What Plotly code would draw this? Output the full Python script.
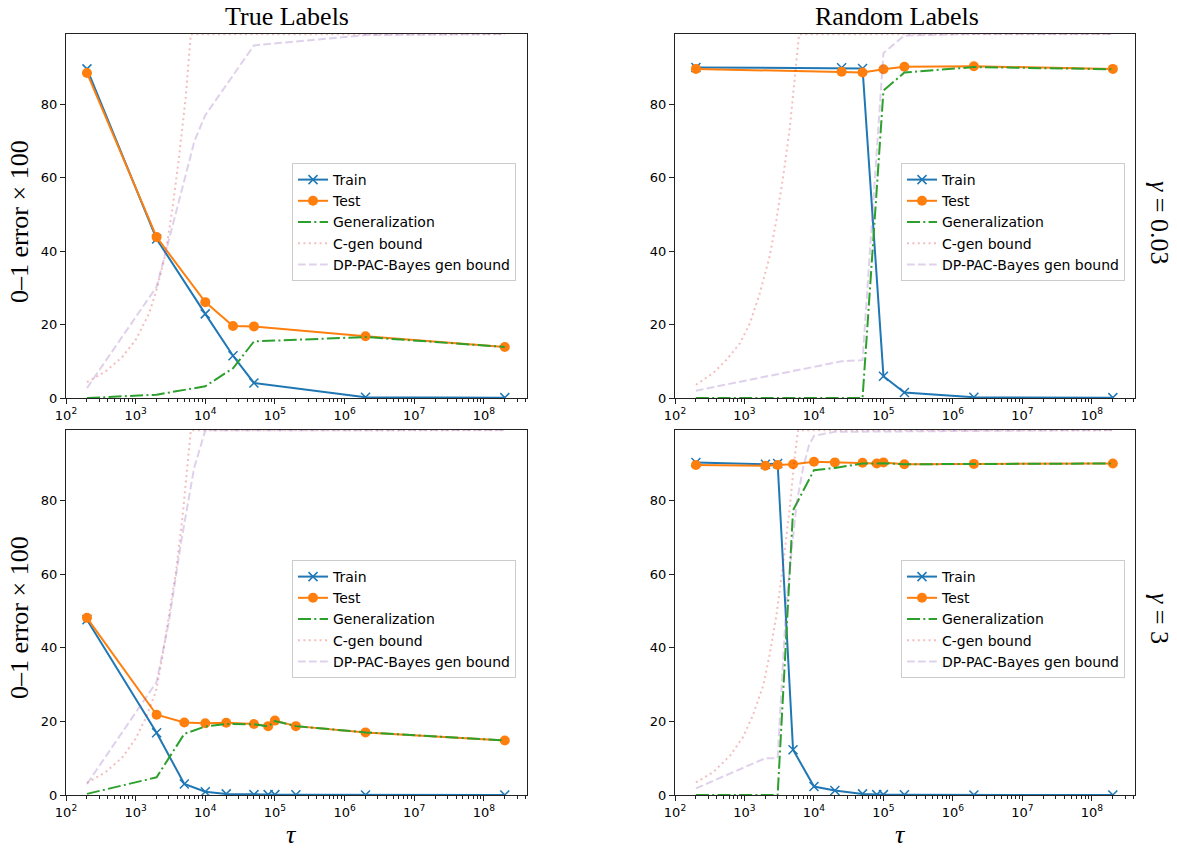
import plotly.graph_objects as go

# ---------------- data ----------------
# Top-left: True labels, gamma = 0.03
TL_tau = [200, 2000, 1e4, 2.5e4, 5e4, 2e6, 2e8]
TL_train = [89.6, 43.3, 22.9, 11.5, 4.1, 0.2, 0.1]
TL_test = [88.5, 43.8, 26.1, 19.6, 19.5, 16.8, 13.9]
TL_gen = [0.0, 0.9, 3.2, 8.1, 15.4, 16.6, 13.9]
TL_cgen_tau = [200, 370, 650, 1000, 1560, 2000, 2700, 3400, 4200, 5250, 6200, 2e8]
TL_cgen = [4.3, 7.2, 11.3, 15.8, 23.0, 29.5, 39.4, 52.0, 65.6, 82.0, 99.0, 99.0]
TL_dp_tau = [200, 2000, 3000, 4000, 5000, 7000, 1e4, 2.5e4, 5e4, 2e6, 2e8]
TL_dp = [2.7, 30.3, 43.0, 52.0, 59.0, 70.0, 77.0, 88.0, 96.0, 98.8, 99.1]

# Top-right: Random labels, gamma = 0.03
TR_tau = [200, 2.5e4, 5e4, 1e5, 2e5, 2e6, 2e8]
TR_train = [90.0, 89.9, 89.7, 5.9, 1.5, 0.2, 0.1]
TR_test = [89.6, 88.8, 88.6, 89.5, 90.2, 90.3, 89.6]
TR_gen = [0.0, 0.0, 0.0, 83.7, 88.6, 90.1, 89.5]
TR_cgen_tau = [200, 355, 550, 860, 1200, 1660, 2300, 2870, 3600, 4450, 5250, 6100, 2e8]
TR_cgen = [3.6, 6.8, 10.4, 14.9, 20.4, 28.5, 38.5, 48.4, 60.2, 72.9, 86.4, 99.0, 99.0]
TR_dp_tau = [200, 2.5e4, 5e4, 1e5, 2e5, 2e6, 2e8]
TR_dp = [2.0, 10.0, 10.3, 93.9, 98.7, 99.1, 99.1]

# Bottom-left: True labels, gamma = 3
BL_tau = [200, 2000, 5000, 1e4, 2e4, 5e4, 8e4, 1e5, 2e5, 2e6, 2e8]
BL_train = [47.6, 16.9, 3.0, 0.9, 0.3, 0.1, 0.1, 0.1, 0.05, 0.02, 0.0]
BL_test = [48.1, 21.8, 19.7, 19.5, 19.6, 19.3, 18.7, 20.2, 18.7, 17.0, 14.8]
BL_gen = [0.3, 4.8, 16.6, 18.6, 19.3, 19.2, 18.6, 20.1, 18.7, 17.0, 14.8]
BL_cgen_tau = [200, 370, 650, 1000, 1380, 1950, 2400, 3000, 3800, 4700, 5560, 6200, 2e8]
BL_cgen = [3.3, 6.2, 10.3, 15.3, 20.7, 28.0, 37.0, 48.0, 60.7, 75.3, 89.0, 99.0, 99.0]
BL_dp_tau = [200, 2000, 3000, 4500, 6900, 9100, 1e4, 2e8]
BL_dp = [3.0, 30.7, 47.0, 68.7, 88.7, 96.8, 99.0, 99.1]

# Bottom-right: Random labels, gamma = 3
BR_tau = [200, 2000, 3000, 5000, 1e4, 2e4, 5e4, 8e4, 1e5, 2e5, 2e6, 2e8]
BR_train = [90.3, 89.8, 90.0, 12.3, 2.3, 1.2, 0.3, 0.1, 0.1, 0.05, 0.02, 0.0]
BR_test = [89.6, 89.4, 89.6, 89.8, 90.5, 90.3, 90.2, 90.0, 90.3, 89.8, 89.9, 90.0]
BR_gen = [0.0, 0.0, 0.0, 77.3, 88.2, 88.8, 90.0, 90.0, 90.1, 89.8, 89.9, 90.0]
BR_cgen_tau = [200, 355, 620, 950, 1320, 1860, 2290, 2880, 3590, 4470, 5250, 5900, 2e8]
BR_cgen = [3.4, 6.2, 10.7, 15.7, 21.6, 29.7, 37.9, 48.8, 62.4, 77.8, 91.4, 99.0, 99.0]
BR_dp_tau = [200, 2000, 3000, 3200, 3600, 4000, 4700, 5600, 7000, 8500, 1e4, 2e4, 2e8]
BR_dp = [1.8, 10.0, 10.0, 19.0, 37.0, 52.0, 65.0, 79.0, 89.0, 95.0, 97.5, 98.6, 99.1]

SERIES_NAMES = ["Train", "Test", "Generalization", "C-gen bound", "DP-PAC-Bayes gen bound"]
COL_TITLES = ["True Labels", "Random Labels"]
ROW_LABELS = ["<i>γ</i> = 0.03", "<i>γ</i> = 3"]
YLABEL = "0–1 error × 100"
XLABEL = "<i>τ</i>"
X_TICKVALS = [1e2, 1e3, 1e4, 1e5, 1e6, 1e7, 1e8]
X_TICKTEXT = ["10<sup>%d</sup>" % e for e in range(2, 9)]
Y_TICKVALS = [0, 20, 40, 60, 80]

# ---------------- styling ----------------
BLUE = "#1f77b4"
ORANGE = "#ff7f0e"
GREEN = "#2ca02c"
PINK = "rgba(214,39,40,0.3)"
LAV = "rgba(148,103,189,0.3)"
W, H = 1177, 852
LW = 2

panels = [
    (TL_tau, TL_train, TL_test, TL_gen, TL_cgen_tau, TL_cgen, TL_dp_tau, TL_dp),
    (TR_tau, TR_train, TR_test, TR_gen, TR_cgen_tau, TR_cgen, TR_dp_tau, TR_dp),
    (BL_tau, BL_train, BL_test, BL_gen, BL_cgen_tau, BL_cgen, BL_dp_tau, BL_dp),
    (BR_tau, BR_train, BR_test, BR_gen, BR_cgen_tau, BR_cgen, BR_dp_tau, BR_dp),
]

# pixel boxes of the axes: (left, right, top, bottom)
boxes = [(66, 527, 34, 398), (675, 1135, 34, 398), (66, 527, 430, 795), (675, 1135, 430, 795)]
legend_pos = [(292, 163), (901, 163), (292, 560), (901, 560)]

fig = go.Figure()
for i, (tau, tr, te, ge, ct, cg, dt, dp) in enumerate(panels):
    sfx = "" if i == 0 else str(i + 1)
    xa, ya = "x" + sfx, "y" + sfx
    lg = "legend" + sfx
    common = dict(xaxis=xa, yaxis=ya, legend=lg, showlegend=True, hoverinfo="skip")
    fig.add_trace(go.Scatter(x=tau, y=tr, name=SERIES_NAMES[0], mode="lines+markers",
                             line=dict(color=BLUE, width=LW),
                             marker=dict(symbol="x-thin", size=9, line=dict(color=BLUE, width=1.5)),
                             **common))
    fig.add_trace(go.Scatter(x=tau, y=te, name=SERIES_NAMES[1], mode="lines+markers",
                             line=dict(color=ORANGE, width=LW),
                             marker=dict(symbol="circle", size=10, color=ORANGE, line=dict(width=0)),
                             **common))
    fig.add_trace(go.Scatter(x=tau, y=ge, name=SERIES_NAMES[2], mode="lines",
                             line=dict(color=GREEN, width=LW, dash="13px,3.3px,2px,3.3px"),
                             **common))
    fig.add_trace(go.Scatter(x=ct, y=cg, name=SERIES_NAMES[3], mode="lines",
                             line=dict(color=PINK, width=LW, dash="2px,3.4px"),
                             **common))
    fig.add_trace(go.Scatter(x=dt, y=dp, name=SERIES_NAMES[4], mode="lines",
                             line=dict(color=LAV, width=LW, dash="7.7px,3.3px"),
                             **common))

    l, r, t, b = boxes[i]
    axis_common = dict(showline=True, mirror=True, linecolor="#222", linewidth=1,
                       ticks="outside", ticklen=5, tickwidth=1, tickcolor="#222",
                       showgrid=False, zeroline=False, automargin=False,
                       tickfont=dict(family="DejaVu Sans", size=13, color="black"))
    fig.layout["xaxis" + sfx] = dict(
        type="log", range=[2, 8.62], domain=[l / W, r / W], anchor=ya,
        tickvals=X_TICKVALS, ticktext=X_TICKTEXT,
        minor=dict(ticks="outside", ticklen=3, tickwidth=0.8, tickcolor="#222",
                   tickvals=[k * 10 ** e for e in range(2, 9) for k in range(2, 10)],
                   showgrid=False),
        **axis_common)
    fig.layout["yaxis" + sfx] = dict(
        range=[0, 99.1], domain=[1 - b / H, 1 - t / H], anchor=xa,
        tickvals=Y_TICKVALS, **axis_common)
    lx, ly = legend_pos[i]
    fig.layout[lg] = dict(x=lx / W, y=1 - ly / H, xanchor="left", yanchor="top",
                          bgcolor="rgba(255,255,255,0.8)", bordercolor="#cccccc", borderwidth=1,
                          font=dict(family="DejaVu Sans", size=14, color="black"),
                          itemwidth=30, tracegroupgap=0)

SERIF = "Liberation Serif"
ann = []
for cx, txt in [(287, COL_TITLES[0]), (897, COL_TITLES[1])]:
    ann.append(dict(x=cx / W, y=1 - 16 / H, text=txt, showarrow=False, xref="paper", yref="paper",
                    xanchor="center", yanchor="middle", font=dict(family=SERIF, size=26, color="black")))
for cy in [222, 618]:
    ann.append(dict(x=19 / W, y=1 - cy / H, text=YLABEL, textangle=-90, showarrow=False,
                    xref="paper", yref="paper", xanchor="center", yanchor="middle",
                    font=dict(family=SERIF, size=26, color="black")))
for cy, txt in [(222, ROW_LABELS[0]), (618, ROW_LABELS[1])]:
    ann.append(dict(x=1160 / W, y=1 - cy / H, text=txt, textangle=90, showarrow=False,
                    xref="paper", yref="paper", xanchor="center", yanchor="middle",
                    font=dict(family=SERIF, size=26, color="black")))
for cx in [291, 900]:
    ann.append(dict(x=cx / W, y=1 - 834 / H, text=XLABEL, showarrow=False, xref="paper", yref="paper",
                    xanchor="center", yanchor="middle", font=dict(family=SERIF, size=26, color="black")))

fig.update_layout(template="none", width=W, height=H, margin=dict(l=0, r=0, t=0, b=0, pad=0),
                  autosize=False, paper_bgcolor="white", plot_bgcolor="white", annotations=ann)

fig.write_html("out.html", config={"displayModeBar": False},
               post_script="document.body.style.margin='0px';document.body.style.overflow='hidden';")
